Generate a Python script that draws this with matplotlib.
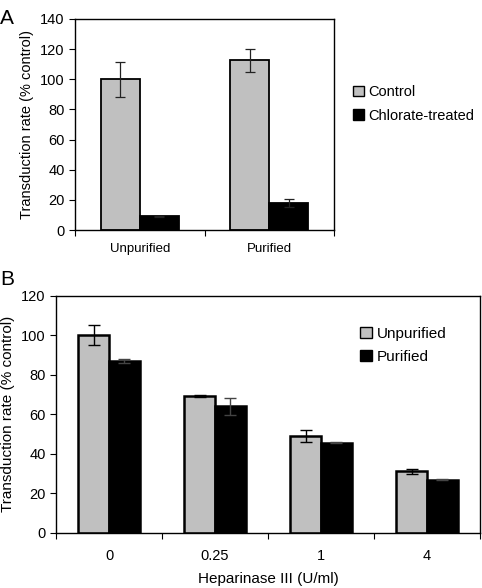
# Figura de dos paneles: tasa de transduccion
import numpy as np
import matplotlib.pyplot as plt
from matplotlib.patches import Patch

plt.rcParams['font.family'] = ['Liberation Sans', 'DejaVu Sans']
plt.rcParams['font.size'] = 10

# datos panel A
cat_a = ['Unpurified', 'Purified']
control = [100, 112.5]
control_err = [11.5, 7.5]
clorato = [9.2, 18]
clorato_err = [0.3, 2.6]

# datos panel B
cat_b = ['0', '0.25', '1', '4']
sin_purificar = [100, 69, 49, 31]
sin_purificar_err = [5, 0.5, 3.2, 1.5]
purificado = [87, 64, 45.6, 26.8]
purificado_err = [1, 4.2, 0.4, 0.2]

gris = '#c0c0c0'

fig = plt.figure(figsize=(4.82, 5.88), dpi=100)

# ---- panel A ----
ax1 = fig.add_axes([0.1556, 0.6088, 0.5374, 0.3589])
x = np.arange(len(cat_a))
w = 0.3
ax1.bar(x - w / 2, control, w, color=gris, edgecolor='black', linewidth=1.3,
        yerr=control_err, capsize=3.5, error_kw=dict(elinewidth=0.9, capthick=0.9, ecolor='#222222'))
ax1.bar(x + w / 2, clorato, w, color='black', edgecolor='black', linewidth=1.3,
        yerr=clorato_err, capsize=3.5, error_kw=dict(elinewidth=0.9, capthick=0.9, ecolor='#222222'))
ax1.set_xlim(-0.5, len(cat_a) - 0.5)
ax1.set_ylim(0, 140)
ax1.set_yticks(range(0, 141, 20))
ax1.set_xticks(x, cat_a, fontsize=9.5)
ax1.set_xticks(np.arange(len(cat_a) + 1) - 0.5, minor=True)
ax1.tick_params(axis='x', which='major', length=0, pad=9)
ax1.tick_params(axis='x', which='minor', length=4, width=0.8)
ax1.tick_params(axis='y', length=4, width=0.8, labelsize=10.5)
ax1.set_ylabel('Transduction rate (% control)', fontsize=10.5)
for s in ax1.spines.values():
    s.set_linewidth(1.0)

manejadores_a = [Patch(facecolor=gris, edgecolor='black', linewidth=1.0, label='Control'),
                 Patch(facecolor='black', edgecolor='black', label='Chlorate-treated')]
fig.legend(handles=manejadores_a, loc='upper left', bbox_to_anchor=(0.72, 0.865),
           frameon=False, handlelength=0.75, handleheight=0.75, handletextpad=0.3,
           labelspacing=0.65, fontsize=10.5, borderaxespad=0)

fig.text(0.0, 0.985, 'A', fontsize=15, va='top', ha='left')

# ---- panel B ----
ax2 = fig.add_axes([0.1162, 0.094, 0.8798, 0.4031])
x = np.arange(len(cat_b))
w = 0.29
ax2.bar(x - w / 2, sin_purificar, w, color=gris, edgecolor='black', linewidth=1.8,
        yerr=sin_purificar_err, capsize=4, error_kw=dict(elinewidth=1.0, capthick=1.0))
ax2.bar(x + w / 2, purificado, w, color='black', edgecolor='black', linewidth=1.8,
        yerr=purificado_err, capsize=4, error_kw=dict(elinewidth=1.0, capthick=1.0, ecolor='#444444'))
ax2.set_xlim(-0.5, len(cat_b) - 0.5)
ax2.set_ylim(0, 120)
ax2.set_yticks(range(0, 121, 20))
ax2.set_xticks(x, cat_b, fontsize=10.5)
ax2.set_xticks(np.arange(len(cat_b) + 1) - 0.5, minor=True)
ax2.tick_params(axis='x', which='major', length=0, pad=12)
ax2.tick_params(axis='x', which='minor', length=4, width=0.8)
ax2.tick_params(axis='y', length=4, width=0.8, labelsize=10.5)
ax2.set_ylabel('Transduction rate (% control)', fontsize=11)
ax2.set_xlabel('Heparinase III (U/ml)', fontsize=11, labelpad=6)
for s in ax2.spines.values():
    s.set_linewidth(1.0)

manejadores_b = [Patch(facecolor=gris, edgecolor='black', linewidth=1.0, label='Unpurified'),
                 Patch(facecolor='black', edgecolor='black', label='Purified')]
fig.legend(handles=manejadores_b, loc='upper left', bbox_to_anchor=(0.735, 0.455),
           frameon=False, handlelength=0.75, handleheight=0.75, handletextpad=0.3,
           labelspacing=0.6, fontsize=11, borderaxespad=0)

fig.text(0.0, 0.54, 'B', fontsize=15, va='top', ha='left')

plt.savefig('out.png', dpi=100)
